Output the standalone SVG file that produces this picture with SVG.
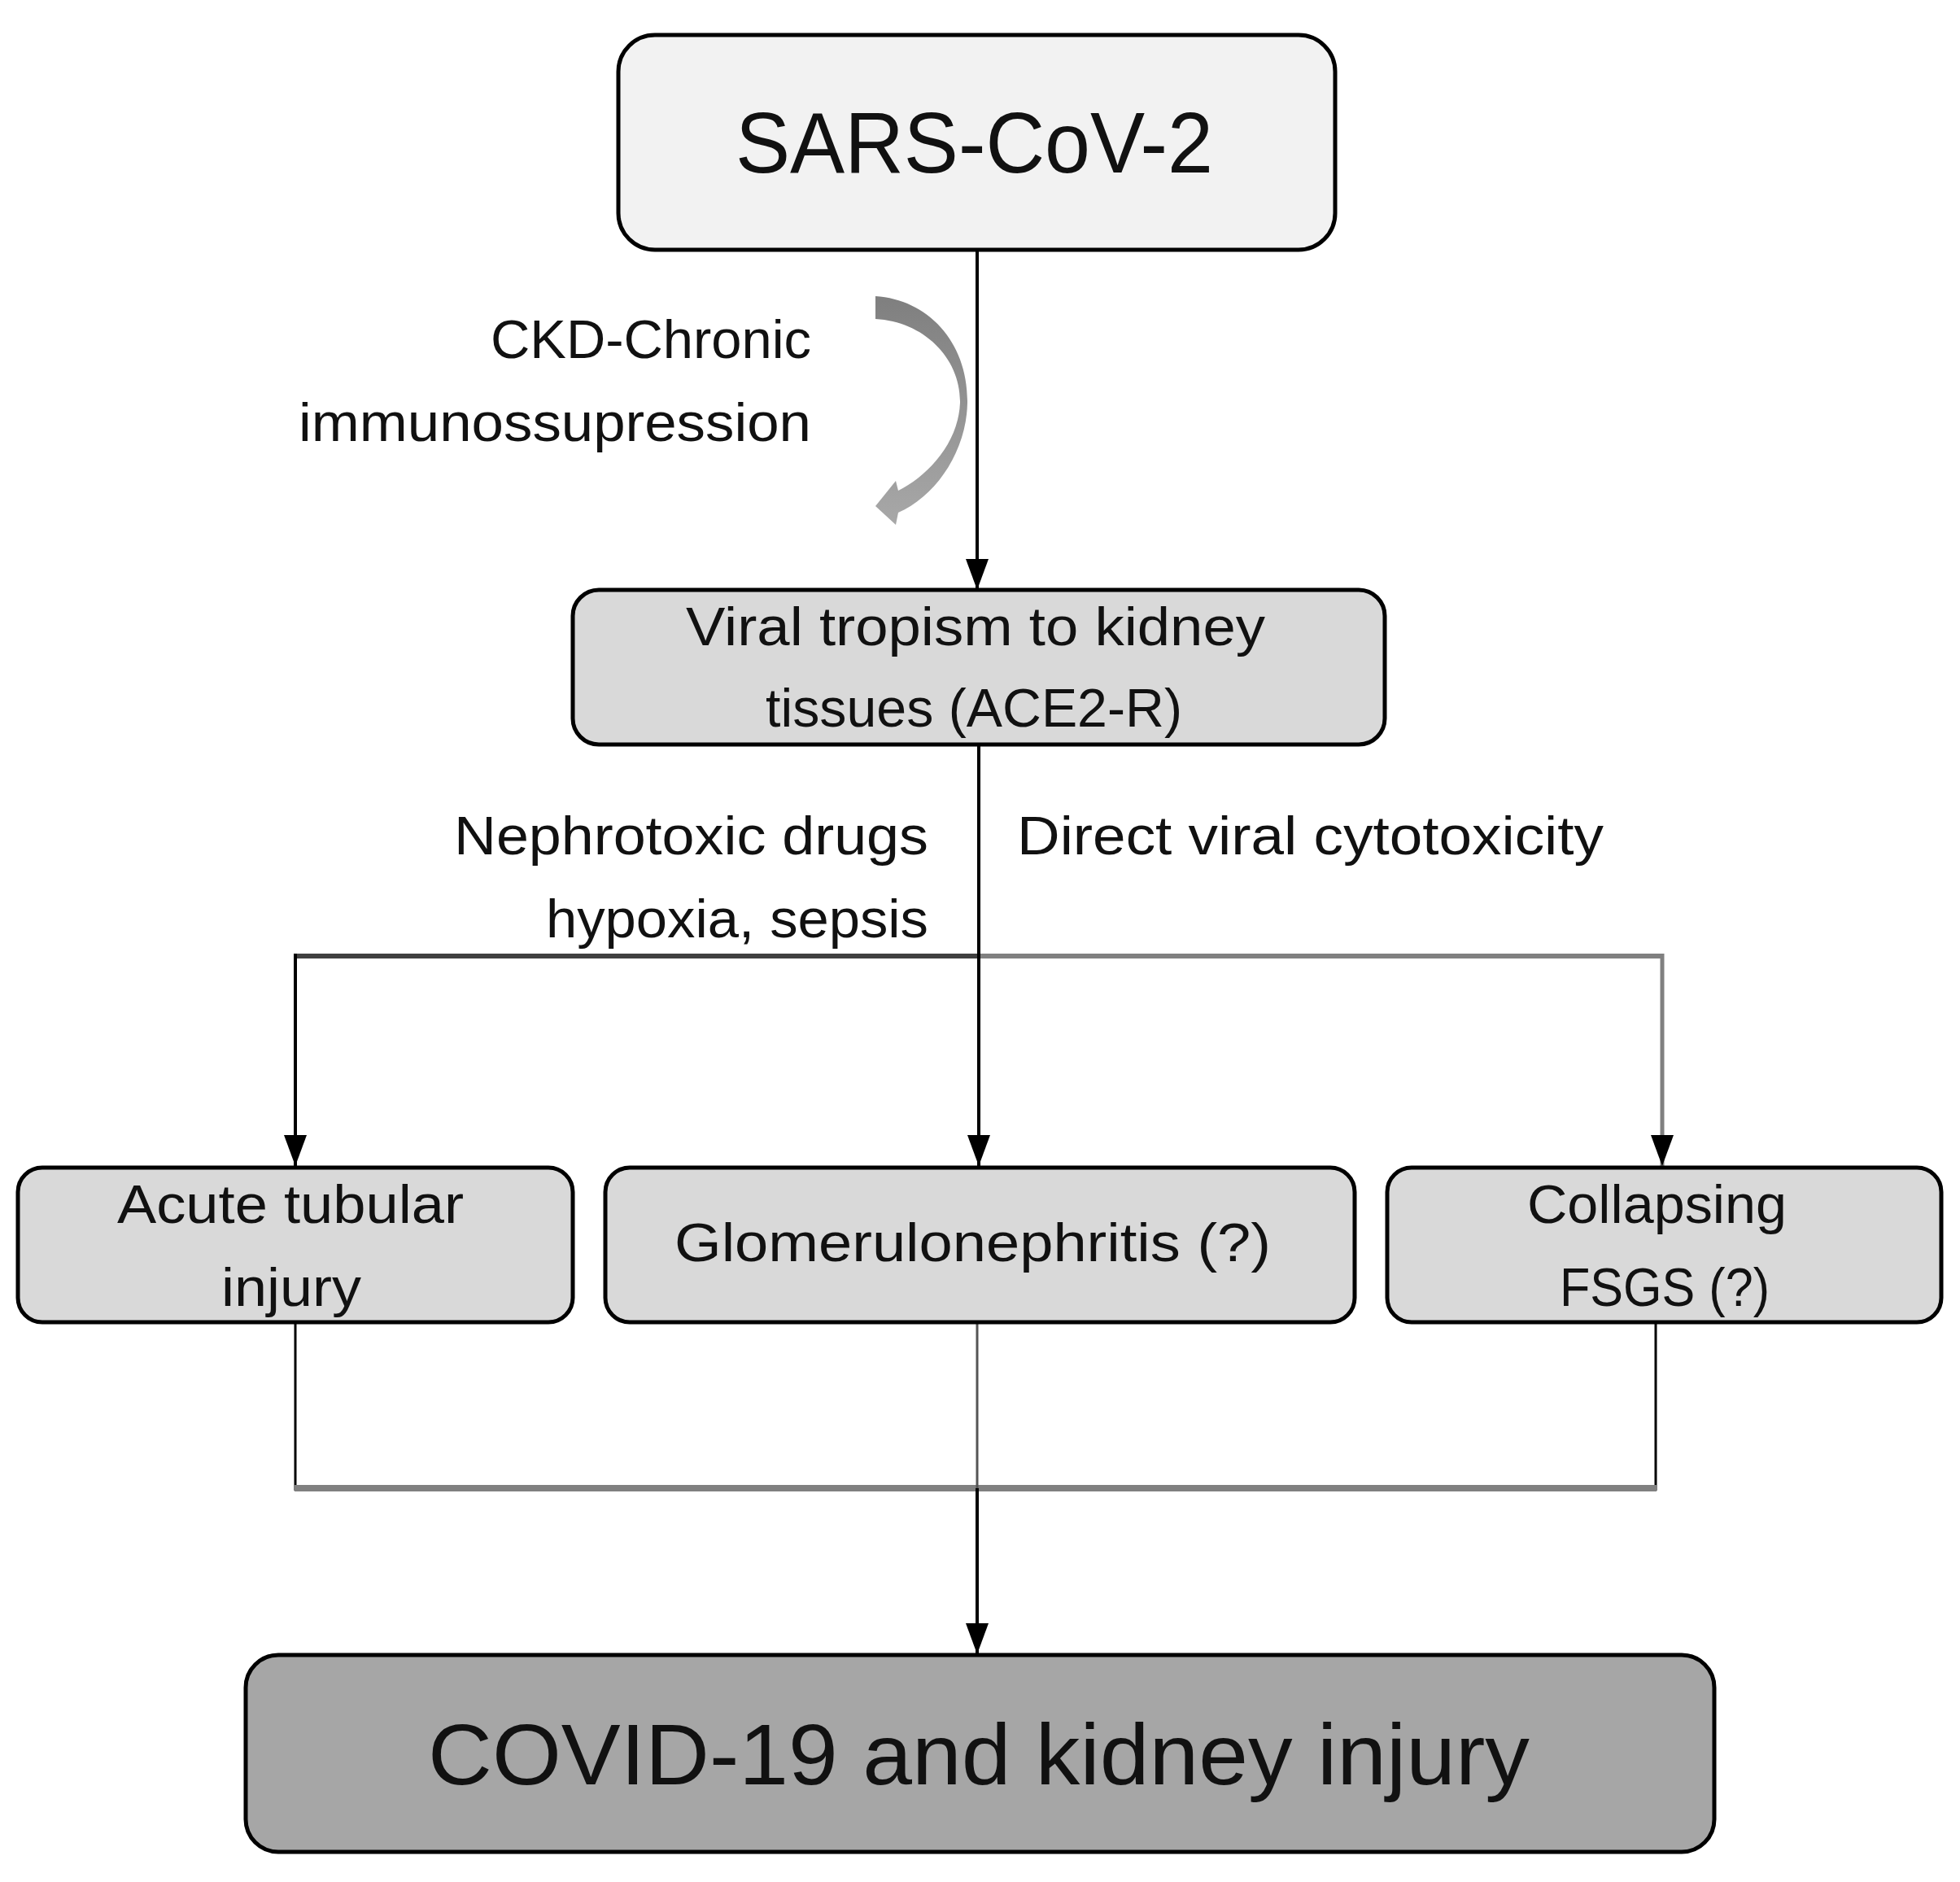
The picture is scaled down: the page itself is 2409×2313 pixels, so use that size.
<svg xmlns="http://www.w3.org/2000/svg" width="2409" height="2313" viewBox="0 0 2409 2313">
<style>
.box{stroke:#000;stroke-width:5}
.t{font-family:"Liberation Sans",Arial,sans-serif;fill:#111;font-size:66px}
.big{font-size:106px}
.ln{fill:none;stroke:#000;stroke-width:4}
.gr{fill:none;stroke:#808080;stroke-width:6}
</style>
<defs>
<marker id="ah" markerUnits="userSpaceOnUse" markerWidth="38" markerHeight="28" refX="38" refY="14" orient="auto" viewBox="0 0 38 28">
<path d="M0,0 L38,14 L0,28 Z" fill="#000"/>
</marker>
<linearGradient id="cg" x1="0" y1="0" x2="0" y2="1">
<stop offset="0" stop-color="#7f7f7f"/>
<stop offset="1" stop-color="#a8a8a8"/>
</linearGradient>
</defs>
<rect width="2409" height="2313" fill="#fff"/>
<g id="connectors">
<line class="ln" x1="1201" y1="307" x2="1201" y2="725" marker-end="url(#ah)"/>
<line class="gr" x1="1203" y1="1175" x2="2043" y2="1175"/>
<line class="ln" x1="363" y1="1175" x2="1205" y2="1175" style="stroke:#404040;stroke-width:6"/>
<line class="ln" x1="1203" y1="915" x2="1203" y2="1433" marker-end="url(#ah)"/>
<line class="ln" x1="363" y1="1172" x2="363" y2="1433" marker-end="url(#ah)"/>
<line class="gr" x1="2043" y1="1172" x2="2043" y2="1433" style="stroke-width:5" marker-end="url(#ah)"/>
<line class="ln" x1="363" y1="1625" x2="363" y2="1832" style="stroke-width:3"/>
<line class="ln" x1="2035" y1="1625" x2="2035" y2="1832" style="stroke-width:3"/>
<line class="gr" x1="362" y1="1829" x2="2036" y2="1829" style="stroke-width:8"/>
<line class="ln" x1="1201" y1="1625" x2="1201" y2="1829" style="stroke:#555;stroke-width:3"/>
<line class="ln" x1="1201" y1="1829" x2="1201" y2="2033" marker-end="url(#ah)"/>
<path id="curved-arrow" d="M1076,364 C1140,368 1190,420 1189,495 C1188,555 1150,610 1104,630 L1101,645 L1076,622 L1101,591 L1104,603 C1140,585 1178,545 1180,495 C1181,440 1135,395 1076,392 Z" fill="url(#cg)"/>
</g>
<g id="label-ckd">
<text class="t" x="603" y="440" textLength="394" lengthAdjust="spacingAndGlyphs">CKD-Chronic</text>
<text class="t" x="367" y="542" textLength="630" lengthAdjust="spacingAndGlyphs">immunossupression</text>
</g>
<g id="label-nephro">
<text class="t" x="558" y="1050" textLength="583" lengthAdjust="spacingAndGlyphs">Nephrotoxic drugs</text>
<text class="t" x="671" y="1152" textLength="470" lengthAdjust="spacingAndGlyphs">hypoxia, sepsis</text>
</g>
<g id="label-direct">
<text class="t" x="1250" y="1050" textLength="721" lengthAdjust="spacingAndGlyphs">Direct viral cytotoxicity</text>
</g>
<g id="node-sars">
<rect class="box" x="760" y="43" width="881" height="264" rx="45" fill="#f2f2f2"/>
<text class="t big" x="904" y="212" textLength="587" lengthAdjust="spacingAndGlyphs">SARS-CoV-2</text>
</g>
<g id="node-viral">
<rect class="box" x="704" y="725" width="998" height="190" rx="32" fill="#d9d9d9"/>
<text class="t" x="843" y="793" textLength="712" lengthAdjust="spacingAndGlyphs">Viral tropism to kidney</text>
<text class="t" x="941" y="893" textLength="512" lengthAdjust="spacingAndGlyphs">tissues (ACE2-R)</text>
</g>
<g id="node-atn">
<rect class="box" x="22" y="1435" width="682" height="190" rx="30" fill="#d9d9d9"/>
<text class="t" x="144" y="1503" textLength="426" lengthAdjust="spacingAndGlyphs">Acute tubular</text>
<text class="t" x="272" y="1605" textLength="172" lengthAdjust="spacingAndGlyphs">injury</text>
</g>
<g id="node-gn">
<rect class="box" x="744" y="1435" width="921" height="190" rx="30" fill="#d9d9d9"/>
<text class="t" x="829" y="1550" textLength="733" lengthAdjust="spacingAndGlyphs">Glomerulonephritis (?)</text>
</g>
<g id="node-fsgs">
<rect class="box" x="1705" y="1435" width="681" height="190" rx="30" fill="#d9d9d9"/>
<text class="t" x="1877" y="1503" textLength="319" lengthAdjust="spacingAndGlyphs">Collapsing</text>
<text class="t" x="1917" y="1605" textLength="258" lengthAdjust="spacingAndGlyphs">FSGS (?)</text>
</g>
<g id="node-covid">
<rect class="box" x="302" y="2034" width="1805" height="242" rx="40" fill="#a6a6a6"/>
<text class="t big" x="526" y="2193" textLength="1354" lengthAdjust="spacingAndGlyphs">COVID-19 and kidney injury</text>
</g>
</svg>
